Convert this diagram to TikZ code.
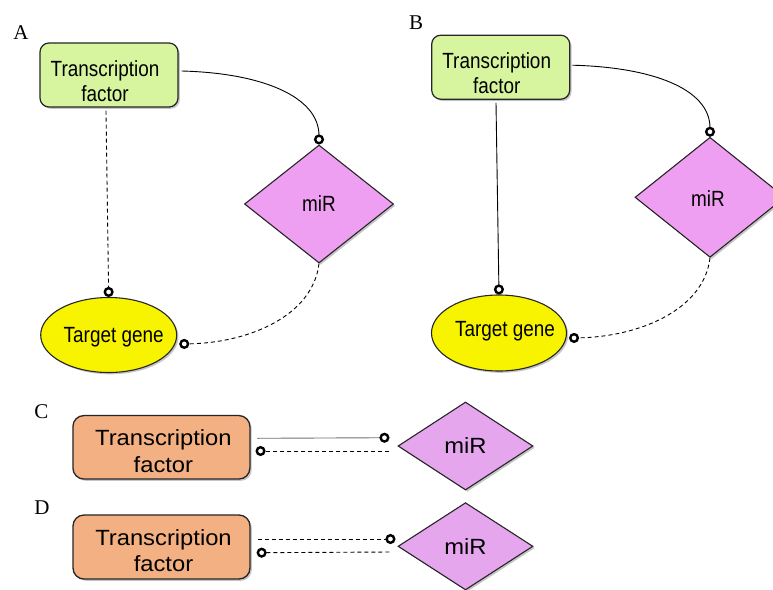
\documentclass[tikz,border=0pt]{standalone}
\usepackage{fontspec}
\setmainfont{Liberation Serif}
\newfontfamily\narrowsans[FakeStretch=0.86]{Liberation Sans}
\newfontfamily\widesans[FakeStretch=1.08]{Liberation Sans}
\usetikzlibrary{shapes.geometric,arrows.meta,shadows}

\definecolor{tfgreen}{HTML}{D7F59E}
\definecolor{tforange}{HTML}{F3B083}
\definecolor{mirpink}{HTML}{EF9FF2}
\definecolor{mirlilac}{HTML}{E6A6EE}
\definecolor{geneyellow}{HTML}{F8F400}

\tikzset{
  ring/.tip={Circle[open,length=10pt,width=10pt,line width=2.4pt,color=black]},
  softshadow/.style={drop shadow={opacity=0.45,shadow xshift=1.8pt,shadow yshift=-1.8pt}},
  panellabel/.style={font=\fontsize{21}{21}\selectfont,inner sep=0pt},
  smalltext/.style={font=\narrowsans\fontsize{22}{25.7}\selectfont,align=center,inner sep=0pt},
  bigtext/.style={font=\widesans\fontsize{22}{26.7}\selectfont,align=center,inner sep=0pt},
  tfsmall/.style={draw=black!85,line width=1.2pt,rounded corners=9pt,fill=tfgreen,
    minimum width=138pt,minimum height=64pt,inner sep=0pt,softshadow},
  tfbig/.style={draw=black!85,line width=1.3pt,rounded corners=11pt,fill=tforange,
    minimum width=177pt,minimum height=63.5pt,inner sep=0pt,softshadow},
  mirsmall/.style={diamond,draw=black!85,line width=1.1pt,fill=mirpink,inner sep=0pt,
    minimum width=149pt,minimum height=118pt,softshadow},
  mirbig/.style={diamond,draw=black!85,line width=1.1pt,fill=mirlilac,inner sep=0pt,
    minimum width=135pt,minimum height=88pt,softshadow},
  genenode/.style={ellipse,draw=black!85,line width=1.1pt,fill=geneyellow,inner sep=0pt,
    minimum width=136pt,minimum height=75pt,softshadow},
  solidlink/.style={line width=0.9pt,-ring},
  graylink/.style={line width=0.9pt,draw=black!55,-ring},
  dashlink/.style={line width=0.9pt,dash pattern=on 4pt off 3pt,-ring},
}

\begin{document}
\begin{tikzpicture}[x=1pt,y=-1pt]
  \path[fill=white,use as bounding box] (0,0) rectangle (773,589);

  % ---------------- A ----------------
  \node[panellabel] (labA) at (21,33) {A};
  \node[tfsmall,label={[smalltext,shift={(-4,6)}]center:Transcription\\factor}] (tfA) at (109,75) {};
  \node[mirsmall,label={[smalltext]center:miR}] (mirA) at (319,204) {};
  \node[genenode,label={[smalltext,shift={(5,2)}]center:Target gene}] (geneA) at (108.7,335) {};

  \draw[solidlink] ([shift={(3,-4)}]tfA.east) .. controls +(80,2) and +(0,-48) .. (mirA.north);
  \draw[dashlink] ([shift={(-3,3)}]tfA.south) -- (geneA.north);
  \draw[dashlink] (mirA.south) .. controls +(-6,52) and +(70,-1) .. ([shift={(2,9)}]geneA.east);

  % ---------------- B ----------------
  \node[panellabel] (labB) at (416,23) {B};
  \node[tfsmall,label={[smalltext,shift={(-4,6)}]center:Transcription\\factor}] (tfB) at (500.7,67.2) {};
  \node[mirsmall,minimum width=150pt,minimum height=120pt,label={[smalltext,shift={(-2,1)}]center:miR}] (mirB) at (710,197.3) {};
  \node[genenode,minimum width=135pt,minimum height=76pt,label={[smalltext,shift={(6,-2)}]center:Target gene}] (geneB) at (499,333) {};

  \draw[solidlink] ([shift={(2,-2)}]tfB.east) .. controls +(80,2) and +(0,-48) .. (mirB.north);
  \draw[solidlink] ([shift={(-4.7,3)}]tfB.south) -- (geneB.north);
  \draw[dashlink] (mirB.south) .. controls +(-6,52) and +(70,-1) .. ([shift={(2,5)}]geneB.east);

  % ---------------- C ----------------
  \node[panellabel] (labC) at (41.5,411.5) {C};
  \node[tfbig,label={[bigtext,shift={(2,3.5)}]center:Transcription\\factor}] (tfC) at (161.4,447.3) {};
  \node[mirbig,label={[bigtext]center:miR}] (mirC) at (465.5,446) {};

  \draw[graylink] ([shift={(6.7,-9)}]tfC.east) -- ([shift={(-8,-8.3)}]mirC.west);
  \draw[dashlink] ([shift={(-8,5)}]mirC.west) -- ([shift={(5,3.7)}]tfC.east);

  % ---------------- D ----------------
  \node[panellabel] (labD) at (42,508) {D};
  \node[tfbig,minimum height=64pt,label={[bigtext,shift={(2,3.5)}]center:Transcription\\factor}] (tfD) at (161.5,547) {};
  \node[mirbig,minimum height=87.3pt,label={[bigtext]center:miR}] (mirD) at (465.5,546.3) {};

  \draw[dashlink] ([shift={(7,-8)}]tfD.east) -- ([shift={(-2,-7.3)}]mirD.west);
  \draw[dashlink] ([shift={(-8,5.7)}]mirD.west) -- ([shift={(6,5.7)}]tfD.east);
\end{tikzpicture}
\end{document}
